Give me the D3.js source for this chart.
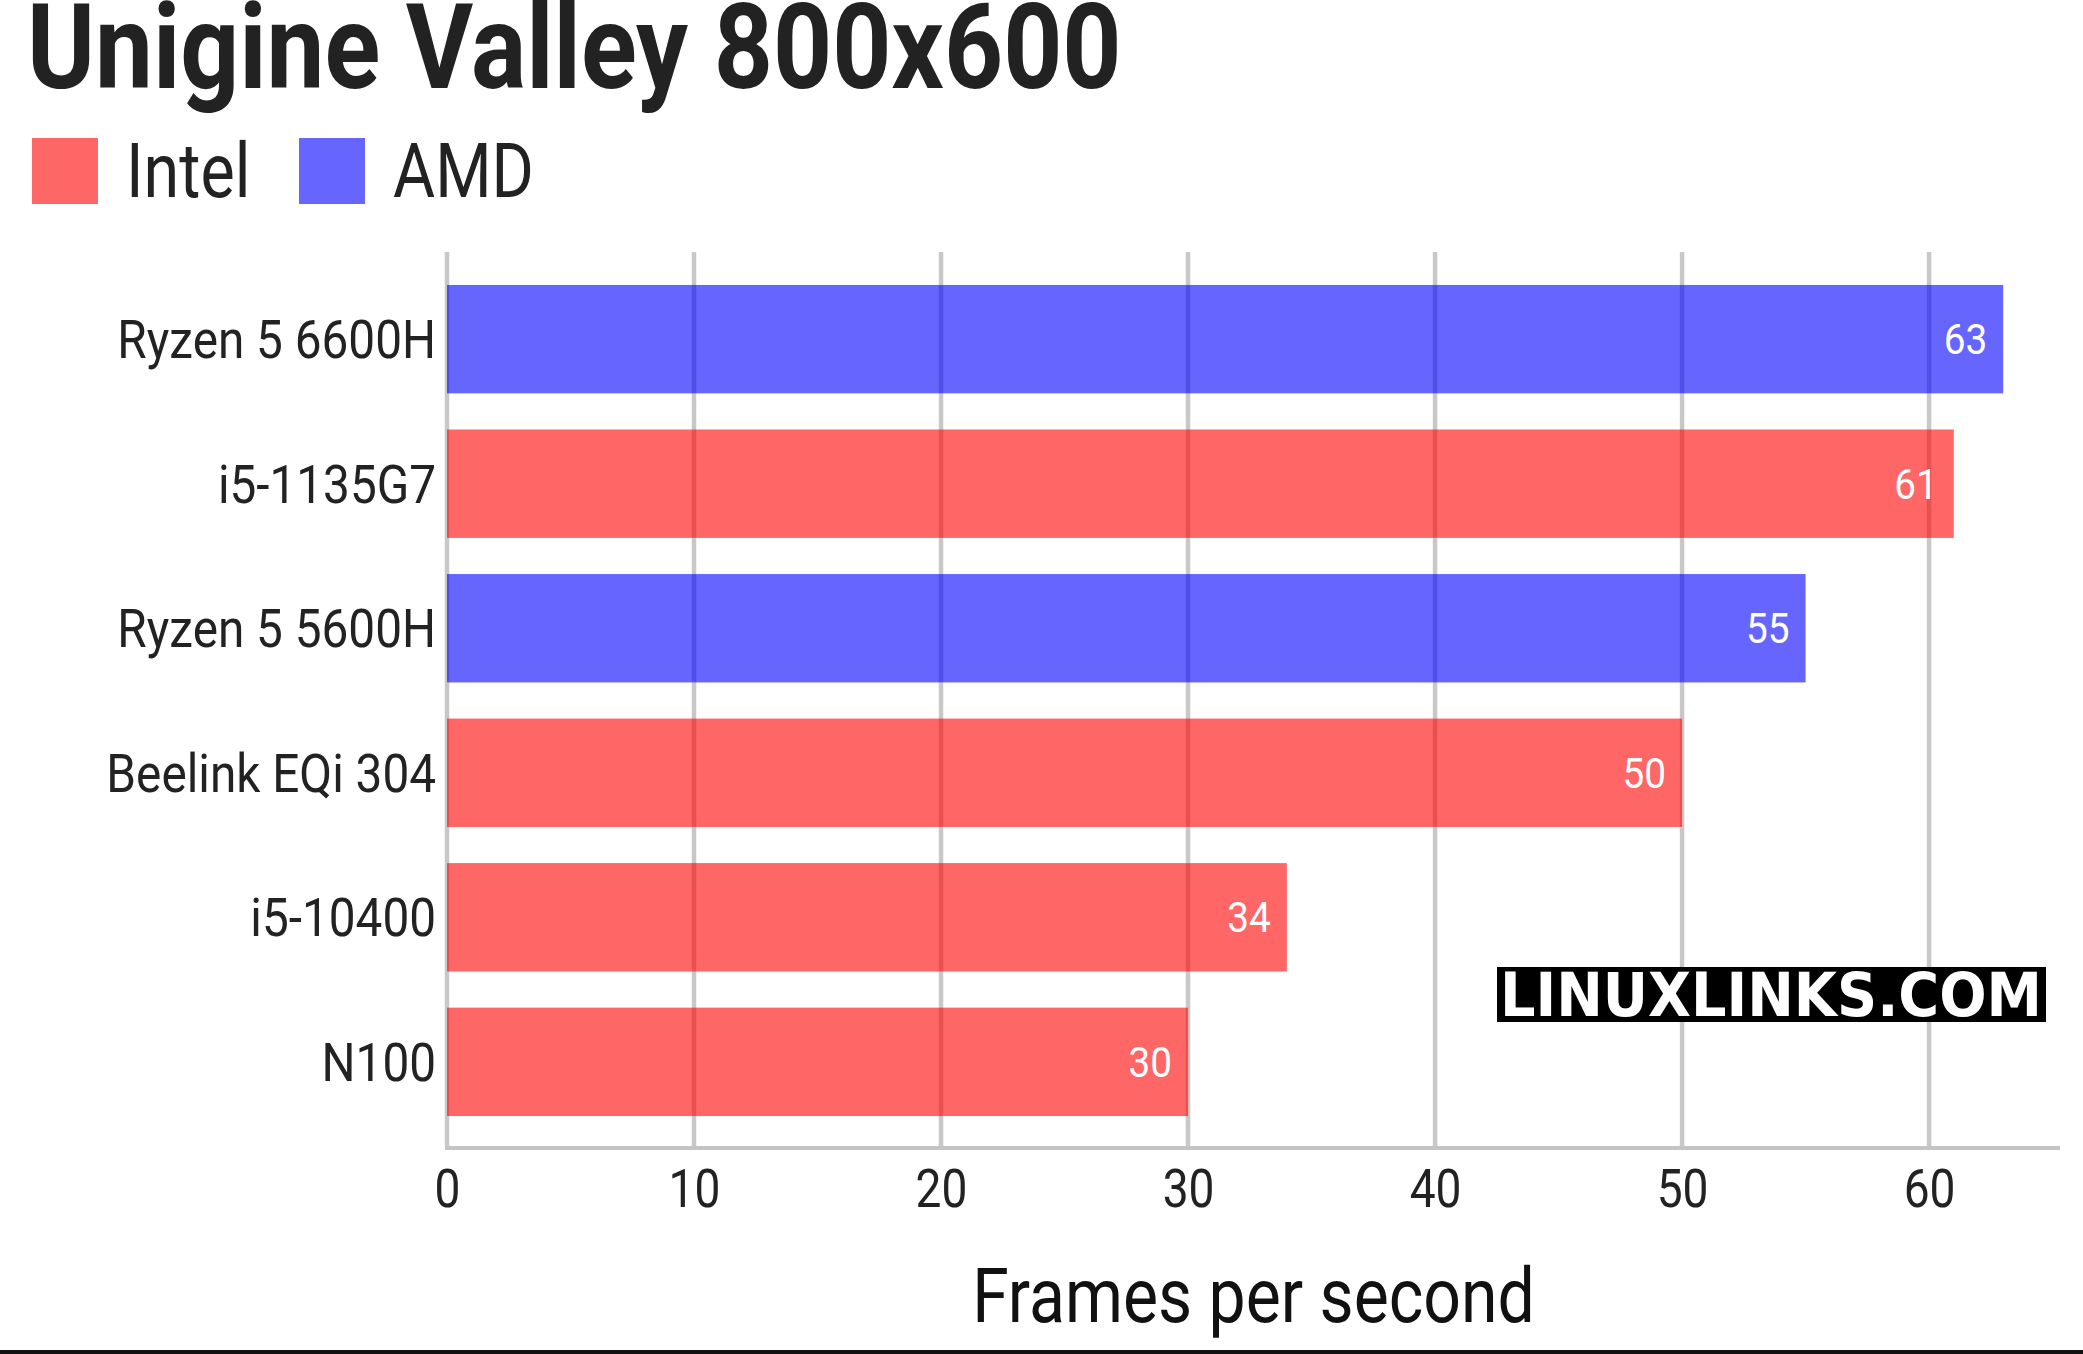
<!DOCTYPE html>
<html>
<head>
<meta charset="utf-8">
<script src="https://cdn.jsdelivr.net/npm/d3@7"></script>
<style>
  body { margin: 0; background: #fff; }
  svg { display: block; font-family: Roboto, sans-serif; }
</style>
</head>
<body>
<svg id="chart" width="2083" height="1354"></svg>
<script>
// values, top to bottom
const cpus = ["Ryzen 5 6600H", "i5-1135G7", "Ryzen 5 5600H", "Beelink EQi 304", "i5-10400", "N100"];
const fps = [63, 61, 55, 50, 34, 30];
const vendor = ["AMD", "Intel", "AMD", "Intel", "Intel", "Intel"];
const vendors = ["Intel", "AMD"];
const xTicks = [0, 10, 20, 30, 40, 50, 60];

const colour = d3.scaleOrdinal().domain(vendors).range(["#ff0000", "#0000ff"]);
const rows = cpus.map((c, i) => ({ cpu: c, fps: fps[i], vendor: vendor[i] }));

// Roboto Condensed isn't installed, so squeeze Roboto instead
const narrow = 0.87;
function condense(sel, k) {
  sel.each(function () {
    const w = this.getComputedTextLength();
    d3.select(this).attr("textLength", w * k).attr("lengthAdjust", "spacingAndGlyphs");
  });
}

const svg = d3.select("#chart");
const plotLeft = 447, plotRight = 2060, plotTop = 252, plotBottom = 1146;

const x = d3.scaleLinear().domain([0, 65.3]).range([plotLeft, plotRight]);
const y = d3.scaleBand().domain(cpus).range([plotTop, plotBottom + 3]).paddingInner(0.25).paddingOuter(0.228);

// title + legend
svg.append("text")
  .attr("x", 27).attr("y", 88)
  .attr("font-size", 118).attr("font-weight", 700).attr("fill", "#222")
  .text("Unigine Valley 800x600")
  .call(condense, 0.875);

const legend = svg.append("g").selectAll("g").data(vendors).join("g")
  .attr("transform", (d, i) => "translate(" + (32 + i * 267) + ",138)");
legend.append("rect")
  .attr("width", 66).attr("height", 66)
  .attr("fill", d => colour(d)).attr("fill-opacity", 0.6);
legend.append("text")
  .attr("x", 94).attr("y", 59)
  .attr("font-size", 76).attr("fill", "#222")
  .text(d => d)
  .call(condense, 0.85);

// grid
svg.append("g").selectAll("line").data(xTicks).join("line")
  .attr("x1", d => x(d)).attr("x2", d => x(d))
  .attr("y1", plotTop).attr("y2", plotBottom)
  .attr("stroke", "#c8c8c8").attr("stroke-width", 4.5);

svg.append("line")
  .attr("x1", plotLeft - 2).attr("x2", plotRight)
  .attr("y1", plotBottom + 2).attr("y2", plotBottom + 2)
  .attr("stroke", "#c4c4c4").attr("stroke-width", 4);

// bars
svg.append("g").selectAll("rect").data(rows).join("rect")
  .attr("x", x(0))
  .attr("y", d => y(d.cpu))
  .attr("width", d => x(d.fps) - x(0))
  .attr("height", y.bandwidth())
  .attr("fill", d => colour(d.vendor))
  .attr("fill-opacity", 0.6);

svg.append("g").selectAll("text").data(rows).join("text")
  .attr("x", d => x(d.fps) - 16)
  .attr("y", d => y(d.cpu) + y.bandwidth() / 2 + 15)
  .attr("text-anchor", "end")
  .attr("font-size", 43).attr("fill", "#fff")
  .text(d => d.fps)
  .call(condense, 0.9);

// category axis
const yAxis = svg.append("g")
  .attr("transform", "translate(" + (plotLeft - 11) + ",0)")
  .call(d3.axisLeft(y).tickSize(0).tickPadding(0));
yAxis.select(".domain").remove();
yAxis.selectAll("text")
  .attr("font-size", 53).attr("fill", "#222").attr("font-family", "Roboto")
  .attr("dy", null).attr("y", 19)
  .call(condense, 0.9);

// value axis
const xAxis = svg.append("g")
  .attr("transform", "translate(0," + plotBottom + ")")
  .call(d3.axisBottom(x).tickValues(xTicks).tickSize(0).tickPadding(0));
xAxis.select(".domain").remove();
xAxis.selectAll("text")
  .attr("font-size", 53).attr("fill", "#222").attr("font-family", "Roboto")
  .attr("dy", null).attr("y", 61)
  .call(condense, narrow);

svg.append("text")
  .attr("x", (plotLeft + plotRight) / 2).attr("y", 1322)
  .attr("text-anchor", "middle")
  .attr("font-size", 76).attr("fill", "#111")
  .text("Frames per second")
  .call(condense, narrow);

// watermark
const wm = svg.append("g");
wm.append("rect")
  .attr("x", 1497).attr("y", 967).attr("width", 549).attr("height", 55)
  .attr("fill", "#000");
wm.append("text")
  .attr("x", 1500).attr("y", 1016)
  .attr("font-family", "DejaVu Sans").attr("font-weight", 700)
  .attr("font-size", 60).attr("fill", "#fff")
  .attr("textLength", 542).attr("lengthAdjust", "spacingAndGlyphs")
  .text("LINUXLINKS.COM");

svg.append("rect")
  .attr("x", 0).attr("y", 1350).attr("width", 2083).attr("height", 4)
  .attr("fill", "#111");
</script>
</body>
</html>
